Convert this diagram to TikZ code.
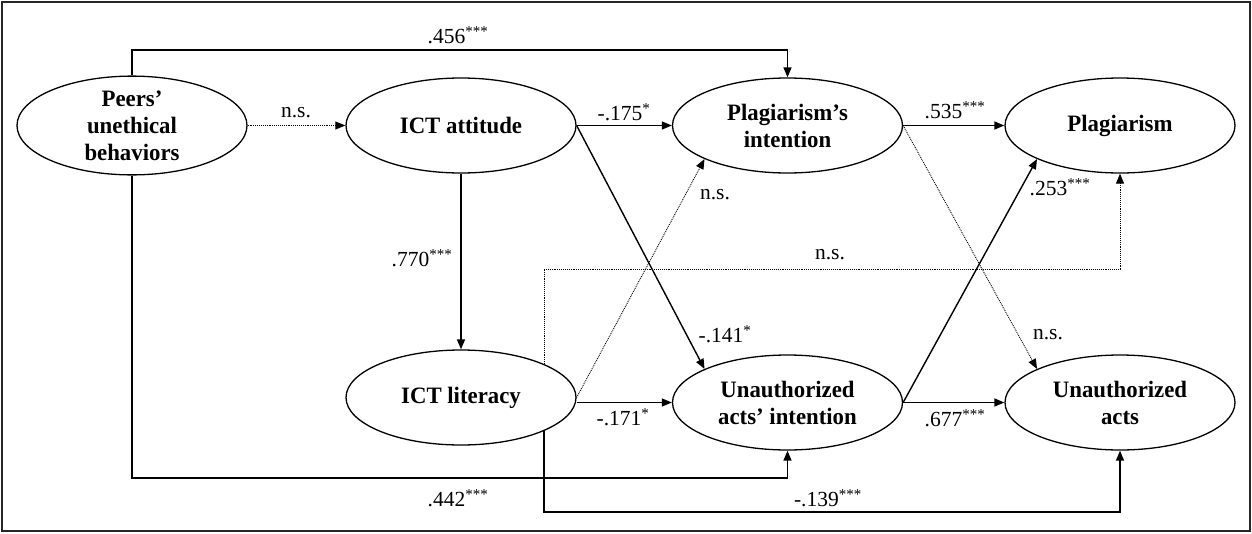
\documentclass[tikz,border=0pt]{standalone}
\usepackage{fontspec}
\setmainfont{Liberation Serif}
\newfontfamily\narrowbold[FakeStretch=0.97]{Liberation Serif}
\usetikzlibrary{arrows.meta,shapes.geometric}
\begin{document}
\begin{tikzpicture}[x=1pt,y=-1pt,
  var/.style={ellipse,draw,line width=1.3pt,minimum width=230pt,minimum height=95pt,inner sep=0pt,align=center,font=\narrowbold\fontsize{23.5}{27}\selectfont\bfseries},
  lab/.style={font=\fontsize{21.5}{24}\selectfont,inner sep=0pt},
  sol/.style={line width=1.4pt,-{Triangle[length=10pt,width=8pt]}},
  dotl/.style={line width=0.9pt,densely dotted,-{Triangle[length=10pt,width=8pt]}},
]
\useasboundingbox (0,0) rectangle (1252,533);
\draw[line width=1.2pt,black!85] (2,2) rectangle (1250,531);

\node[var] (peer) at (132,125.5) {Peers’\\unethical\\behaviors};
\node[var] (att) at (461,125.5) {ICT attitude};
\node[var] (pi) at (787.5,125.5) {Plagiarism’s\\intention};
\node[var] (plag) at (1120,125.5) {Plagiarism};
\node[var] (lit) at (461,397.5) {ICT literacy};
\node[var] (ua) at (787.5,402.5) {Unauthorized\\acts’ intention};
\node[var] (uaa) at (1120,402.5) {Unauthorized\\acts};

\coordinate (t456) at (460,50);
\draw[sol] (peer.north) |- (t456) -| (pi.north);
\draw[dotl] (peer.east) -- (att.west);
\draw[sol] (att.east) -- (pi.west);
\draw[sol] (att.east) -- (ua.158);
\draw[sol] (att.south) -- (lit.north);
\draw[dotl] (lit.east) -- (pi.202);
\coordinate (dl) at (800,269);
\draw[dotl] (lit.22) |- (dl) -| (plag.south);
\draw[sol] (lit.east |- ua.west) -- (ua.west);
\draw[dotl] (pi.east) -- (uaa.158);
\draw[sol] (pi.east) -- (plag.west);
\draw[sol] (ua.east) -- (uaa.west);
\draw[sol] (ua.east) -- (plag.202);
\coordinate (b442) at (460,478);
\draw[sol] (peer.south) |- (b442) -| (ua.south);
\coordinate (b139) at (800,512);
\draw[sol] (lit.-22) |- (b139) -| (uaa.south);

\node[lab] (l456) at (458,35) {.456\textsuperscript{***}};
\node[lab] (lns1) at (296,113) {n.s.};
\node[lab] (l175) at (624,112) {-.175\textsuperscript{*}};
\node[lab] (l535) at (955,110) {.535\textsuperscript{***}};
\node[lab] (l770) at (422,258) {.770\textsuperscript{***}};
\node[lab] (lns2) at (715,195) {n.s.};
\node[lab] (l253) at (1060,187) {.253\textsuperscript{***}};
\node[lab] (lns3) at (830,255) {n.s.};
\node[lab] (l141) at (725,334) {-.141\textsuperscript{*}};
\node[lab] (lns4) at (1048,335) {n.s.};
\node[lab] (l171) at (623,417) {-.171\textsuperscript{*}};
\node[lab] (l677) at (955,418) {.677\textsuperscript{***}};
\node[lab] (l442) at (458,498) {.442\textsuperscript{***}};
\node[lab] (l139) at (828,498) {-.139\textsuperscript{***}};
\end{tikzpicture}
\end{document}
